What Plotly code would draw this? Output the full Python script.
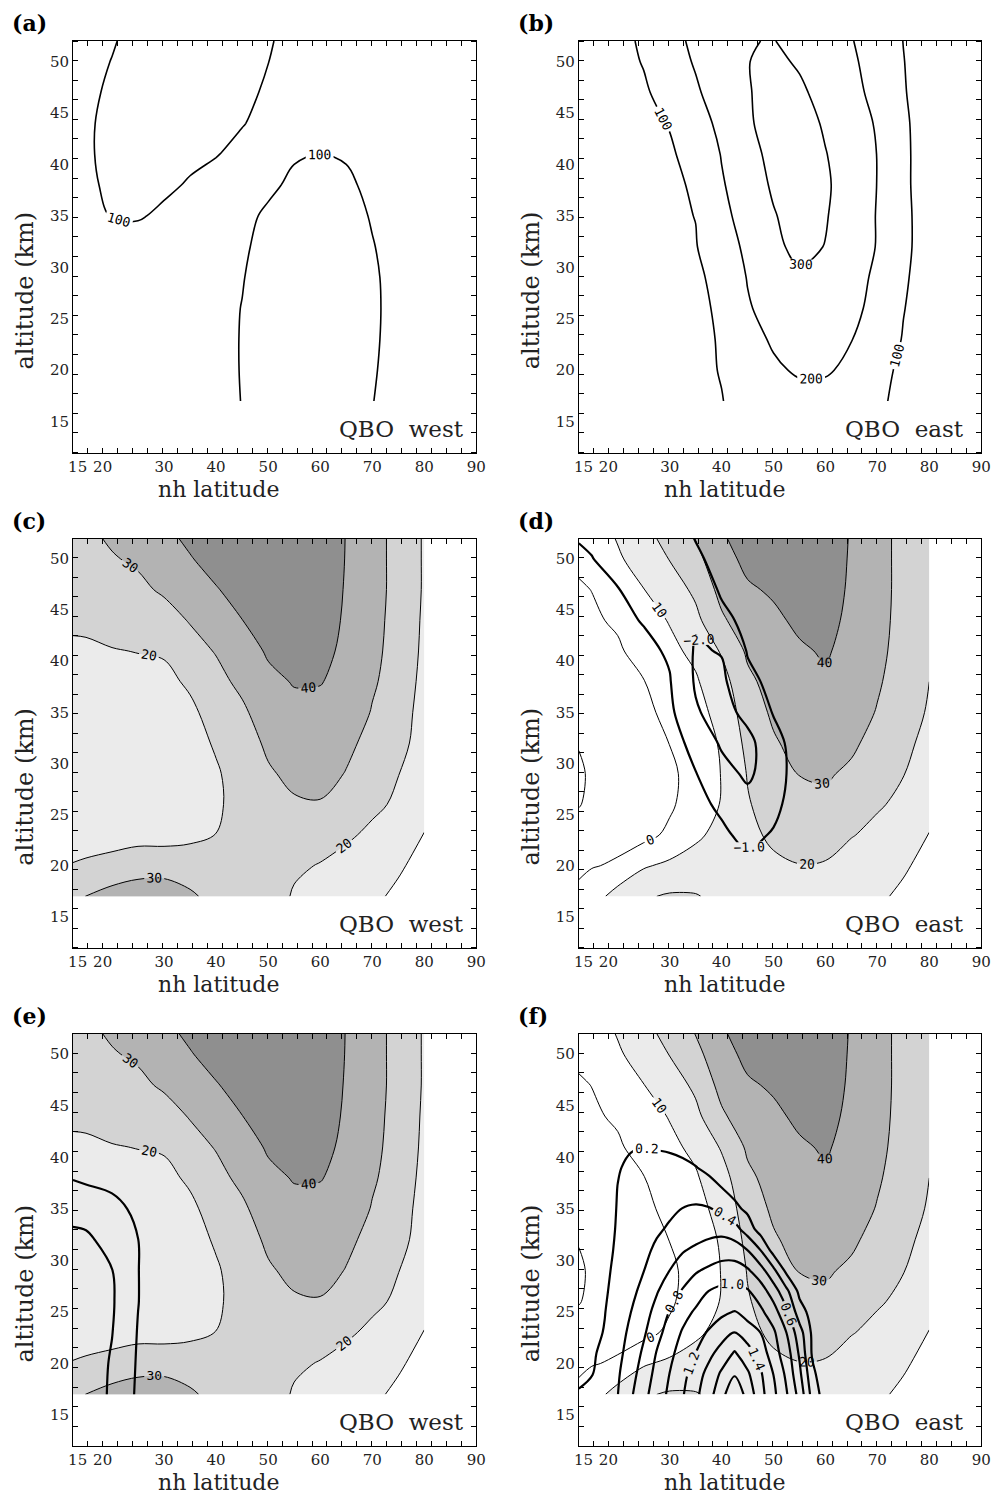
import plotly.graph_objects as go

# ------------------------------------------------------------------ data
LAT = [12.5, 15, 20, 25, 30, 35, 40, 45, 50, 55, 60, 65, 70, 75, 80]
ALT = [17, 20, 23, 26, 29, 32, 35, 38, 41, 44, 47, 50, 52]

# (a) QBO west amplitude (contour 100)
AMP_WEST = [
    [70, 70, 72, 75, 78, 82, 85, 101, 112, 118, 120, 115, 101, 85, 75],
    [70, 70, 72, 75, 78, 82, 85, 102, 115, 122, 124, 118, 103, 88, 78],
    [70, 70, 72, 75, 78, 82, 86, 102, 118, 126, 128, 121, 105, 88, 78],
    [72, 72, 74, 77, 80, 84, 87, 101, 120, 130, 132, 124, 106, 88, 78],
    [74, 74, 76, 79, 82, 85, 88, 98, 118, 130, 133, 125, 105, 88, 78],
    [76, 76, 80, 84, 86, 88, 90, 95, 111, 126, 130, 122, 102, 85, 76],
    [78, 85, 102, 103, 94, 90, 89, 92, 105, 118, 122, 115, 97, 82, 74],
    [82, 92, 108, 110, 106, 97, 92, 90, 94, 106, 111, 106, 92, 80, 72],
    [84, 95, 110, 113, 112, 107, 101, 94, 92, 97, 100.3, 97, 88, 78, 70],
    [85, 94, 111, 116, 116, 113, 108, 101, 94, 90, 88, 84, 80, 74, 68],
    [84, 92, 106, 116, 118, 117, 113, 107, 96, 90, 85, 80, 76, 72, 68],
    [82, 88, 101, 114, 118, 118, 115, 110, 100.3, 92, 86, 80, 76, 72, 68],
    [80, 86, 97, 112, 118, 119, 116, 112, 102, 93, 86, 80, 76, 72, 68],
]

# (b) QBO east amplitude (contours 100, 200, 300)
AMP_EAST = [
    [40, 45, 55, 65, 75, 85, 98, 125, 150, 165, 165, 150, 120, 70, 50],
    [40, 45, 55, 65, 75, 85, 103, 145, 185, 212, 210, 180, 135, 78, 50],
    [40, 45, 55, 66, 77, 88, 104, 165, 212, 240, 240, 202, 155, 95, 55],
    [42, 47, 57, 68, 79, 90, 107, 190, 240, 265, 265, 225, 170, 103, 60],
    [44, 49, 60, 71, 82, 93, 112, 205, 260, 290, 290, 240, 180, 110, 65],
    [46, 52, 63, 75, 87, 97, 140, 225, 285, 318, 298, 255, 195, 115, 70],
    [48, 54, 66, 78, 90, 101, 170, 245, 295, 330, 305, 260, 195, 115, 70],
    [50, 56, 70, 82, 92, 105, 190, 260, 310, 340, 310, 265, 198, 112, 70],
    [52, 58, 72, 85, 95, 115, 205, 275, 320, 345, 303, 260, 198, 112, 70],
    [55, 62, 76, 90, 102, 150, 228, 290, 330, 335, 290, 250, 190, 110, 70],
    [60, 68, 82, 95, 115, 185, 255, 295, 325, 315, 270, 230, 170, 105, 65],
    [65, 74, 88, 102, 150, 210, 270, 298, 318, 290, 255, 215, 160, 102, 62],
    [68, 78, 92, 104, 160, 225, 280, 298, 302, 280, 245, 205, 150, 99, 60],
]

# zonal wind, QBO west (shaded, panels c and e)
U_WEST = [
    [27, 30.2, 34, 35, 35.5, 31.5, 27, 26, 25, 19, 15, 12, 11.5, 8.5, 5],
    [20.4, 21, 22.5, 26, 26, 25, 23, 24, 24.5, 21.5, 19.5, 16.5, 14, 11, 7.5],
    [16.5, 17, 17, 16.5, 16.5, 18, 20.1, 23, 25, 25, 24, 21.5, 18, 15, 9.8],
    [16, 15.5, 15, 14.5, 14.5, 16, 18.8, 23, 26.5, 29, 29.5, 25.5, 22, 18.5, 12],
    [16, 15.5, 15, 14.5, 14.5, 16, 19, 24, 29, 32, 32.5, 29.7, 25, 20.2, 14],
    [16, 15.5, 15, 14.5, 14.8, 16.5, 21, 26, 31.5, 35, 35, 31.5, 28, 23, 16],
    [16.5, 16, 15.5, 15, 15.5, 18, 24, 28.5, 34.5, 37.8, 38, 35, 29.5, 25, 16],
    [17.5, 17, 16.5, 16.5, 17.5, 21.5, 27.5, 32, 38, 40.5, 40.3, 38, 31, 26.5, 17],
    [19, 18.8, 19.5, 20.3, 21, 27, 30.5, 36, 41, 43, 42, 38.5, 32, 27, 18],
    [21, 21.5, 24, 25, 27, 30.5, 36, 39.9, 44, 45.5, 43.5, 39, 32.5, 27.3, 18.5],
    [24, 25, 27.5, 28.5, 31, 35, 39.5, 43, 46, 47, 45, 39.3, 33, 27.5, 19],
    [28, 28.5, 29.5, 31, 36, 39.5, 43, 45.5, 47.5, 48, 46, 39.6, 33, 27.5, 19],
    [29, 28.6, 30.8, 33.5, 38, 41.5, 44.5, 46.5, 48, 48.5, 46.5, 39.7, 33, 27.5, 19],
]

# zonal wind, QBO east (shaded, panels d and f)
U_EAST = [
    [3, 5, 14.5, 19, 21, 20.5, 18, 17, 16, 15, 12.5, 10.5, 11.3, 8.5, 5],
    [-2.5, -0.5, 1, 9, 12, 15, 16, 17.5, 18.5, 19.8, 19.5, 15.5, 14, 11, 7.5],
    [-6, -4.5, -2.5, -3, 2, 8, 13.5, 18, 21.5, 23, 22.5, 20.5, 17.5, 15, 9.8],
    [-10.5, -8, -4.5, -5, -1.5, 5, 10.5, 19.3, 24, 27, 28, 25, 21, 18, 12],
    [-11.5, -8.5, -5.5, -6, -2, 4, 10.3, 20.5, 26.5, 30.3, 31, 28.5, 24, 20.3, 14],
    [-9.5, -8, -5, -5.5, 0.2, 5, 11, 22.5, 29, 33, 34, 31.5, 27, 22.5, 17],
    [-7, -6, -4, -3.5, 4, 7, 13, 25, 31.5, 35.5, 36.5, 34, 29.5, 24.5, 19],
    [-5, -4, -2.5, -0.3, 6, 9, 16, 28, 33.5, 37, 39, 36, 31, 26, 20],
    [-3.5, -2.5, -1, 3, 8, 12, 21, 31.5, 36, 39, 40.8, 37.5, 32, 27, 20.3],
    [-2, -1, 1, 6.5, 10.5, 17.5, 28.5, 35.5, 38.5, 41.5, 42, 38.5, 32.5, 27.5, 20.5],
    [-0.7, 0.1, 4.5, 9.8, 15, 22, 33, 39, 41, 43.5, 43, 39, 33, 27.5, 20.5],
    [1.2, 2.5, 8.5, 15, 20.3, 27, 37, 42, 43.5, 45, 43.5, 39.3, 33, 27.5, 20.5],
    [2.5, 4, 10.7, 17.5, 22.5, 30.3, 39, 43.5, 44.5, 45.5, 43.5, 39.5, 33, 27.5, 20.5],
]

# (d) overlay, QBO east (contours -1.0, -2.0)
D_EAST = [
    [-0.2, -0.2, -0.3, -0.3, -0.4, -0.5, -0.6, -0.7, -0.7, -0.6, -0.4, -0.3, -0.2, -0.1, -0.1],
    [-0.2, -0.3, -0.3, -0.4, -0.5, -0.6, -0.75, -0.85, -0.85, -0.7, -0.5, -0.3, -0.2, -0.1, -0.1],
    [-0.2, -0.3, -0.4, -0.5, -0.6, -0.7, -0.9, -1.15, -0.95, -0.7, -0.5, -0.3, -0.2, -0.1, -0.1],
    [-0.2, -0.3, -0.4, -0.5, -0.65, -0.85, -1.1, -1.6, -1.15, -0.7, -0.5, -0.3, -0.2, -0.1, -0.1],
    [-0.25, -0.3, -0.4, -0.55, -0.7, -0.98, -1.6, -2.2, -1.4, -0.6, -0.45, -0.3, -0.2, -0.1, -0.1],
    [-0.25, -0.35, -0.45, -0.6, -0.8, -1.15, -2.15, -2.3, -1.3, -0.6, -0.4, -0.3, -0.2, -0.1, -0.1],
    [-0.3, -0.35, -0.5, -0.65, -0.8, -1.9, -2.4, -1.7, -0.95, -0.6, -0.4, -0.3, -0.2, -0.1, -0.1],
    [-0.35, -0.4, -0.55, -0.7, -0.95, -2.1, -2.2, -1.2, -0.8, -0.55, -0.4, -0.3, -0.2, -0.1, -0.1],
    [-0.4, -0.45, -0.6, -0.8, -1.1, -2.1, -1.95, -0.95, -0.7, -0.5, -0.4, -0.3, -0.2, -0.1, -0.1],
    [-0.5, -0.55, -0.8, -1.05, -1.6, -1.9, -1.2, -0.8, -0.6, -0.5, -0.4, -0.3, -0.2, -0.1, -0.1],
    [-0.7, -0.8, -0.97, -1.4, -1.6, -1.5, -0.9, -0.7, -0.55, -0.45, -0.35, -0.25, -0.15, -0.1, -0.1],
    [-0.9, -0.98, -1.25, -1.4, -1.4, -1.1, -0.8, -0.6, -0.5, -0.4, -0.3, -0.2, -0.15, -0.1, -0.1],
    [-1.03, -1.1, -1.25, -1.35, -1.3, -0.98, -0.7, -0.55, -0.45, -0.4, -0.3, -0.2, -0.15, -0.1, -0.1],
]

# (e) overlay, QBO west (contours 0.2, 0.4)
E_WEST = [
    [0.55, 0.52, 0.37, 0.17, 0.05, 0.02, 0, 0, 0, 0, 0, 0, 0, 0, 0],
    [0.55, 0.52, 0.38, 0.18, 0.05, 0.02, 0, 0, 0, 0, 0, 0, 0, 0, 0],
    [0.55, 0.52, 0.405, 0.19, 0.05, 0.02, 0, 0, 0, 0, 0, 0, 0, 0, 0],
    [0.56, 0.53, 0.42, 0.205, 0.05, 0.02, 0, 0, 0, 0, 0, 0, 0, 0, 0],
    [0.56, 0.53, 0.405, 0.205, 0.05, 0.02, 0, 0, 0, 0, 0, 0, 0, 0, 0],
    [0.45, 0.44, 0.32, 0.202, 0.05, 0.02, 0, 0, 0, 0, 0, 0, 0, 0, 0],
    [0.33, 0.31, 0.27, 0.15, 0.04, 0.01, 0, 0, 0, 0, 0, 0, 0, 0, 0],
    [0.19, 0.17, 0.13, 0.08, 0.03, 0.01, 0, 0, 0, 0, 0, 0, 0, 0, 0],
    [0.1, 0.08, 0.06, 0.04, 0.02, 0.01, 0, 0, 0, 0, 0, 0, 0, 0, 0],
    [0.06, 0.05, 0.04, 0.03, 0.01, 0, 0, 0, 0, 0, 0, 0, 0, 0, 0],
    [0.04, 0.03, 0.02, 0.01, 0, 0, 0, 0, 0, 0, 0, 0, 0, 0, 0],
    [0.04, 0.03, 0.02, 0.01, 0, 0, 0, 0, 0, 0, 0, 0, 0, 0, 0],
    [0.04, 0.03, 0.02, 0.01, 0, 0, 0, 0, 0, 0, 0, 0, 0, 0, 0],
]

# (f) overlay, QBO east (contours 0.2 ... 1.8), finer grid
F_LAT = [12.5, 15, 17.5, 20, 22.5, 25, 27.5, 30, 32.5, 35, 37.5, 40, 42.5,
         45, 47.5, 50, 52.5, 55, 57.5, 60, 65, 80]
F_ALT = [17, 19, 21, 23, 25, 27, 29, 31, 33, 35, 37, 39, 41, 43, 46, 52]
F_EAST = [
    [0.22, 0.28, 0.34, 0.397, 0.571, 0.745, 0.897, 1.04, 1.183, 1.357, 1.519, 1.741, 1.95, 1.733, 1.47, 1.245, 1.018, 0.733, 0.323, 0.1, 0, 0],
    [0.15, 0.19, 0.281, 0.377, 0.523, 0.693, 0.857, 1.003, 1.139, 1.297, 1.467, 1.63, 1.78, 1.63, 1.426, 1.195, 0.958, 0.646, 0.25, 0.05, 0, 0],
    [0.12, 0.17, 0.254, 0.35, 0.475, 0.636, 0.811, 0.954, 1.081, 1.201, 1.343, 1.48, 1.62, 1.48, 1.32, 1.08, 0.9, 0.571, 0.17, 0.03, 0, 0],
    [0.1, 0.15, 0.21, 0.325, 0.438, 0.573, 0.733, 0.886, 1.02, 1.12, 1.22, 1.315, 1.41, 1.305, 1.198, 1.033, 0.798, 0.486, 0.16, 0.02, 0, 0],
    [0.09, 0.14, 0.195, 0.294, 0.398, 0.523, 0.661, 0.81, 0.929, 1.026, 1.09, 1.16, 1.21, 1.117, 1.04, 0.89, 0.633, 0.289, 0.12, 0.01, 0, 0],
    [0.08, 0.13, 0.18, 0.261, 0.35, 0.456, 0.585, 0.705, 0.818, 0.909, 1.002, 1.05, 1.07, 1.02, 0.9, 0.7, 0.45, 0.15, 0.07, 0.01, 0, 0],
    [0.07, 0.12, 0.17, 0.238, 0.317, 0.397, 0.498, 0.602, 0.691, 0.782, 0.836, 0.88, 0.89, 0.83, 0.68, 0.45, 0.15, 0.05, 0.02, 0, 0, 0],
    [0.06, 0.11, 0.16, 0.222, 0.29, 0.359, 0.431, 0.508, 0.585, 0.634, 0.67, 0.71, 0.7, 0.598, 0.398, 0.12, 0.05, 0.02, 0, 0, 0, 0],
    [0.05, 0.1, 0.15, 0.213, 0.268, 0.322, 0.376, 0.422, 0.462, 0.502, 0.54, 0.54, 0.48, 0.305, 0.12, 0.05, 0.02, 0, 0, 0, 0, 0],
    [0.04, 0.09, 0.14, 0.208, 0.248, 0.288, 0.328, 0.368, 0.404, 0.43, 0.415, 0.356, 0.244, 0.16, 0.1, 0.05, 0.02, 0, 0, 0, 0, 0],
    [0.03, 0.08, 0.13, 0.203, 0.24, 0.28, 0.31, 0.32, 0.31, 0.29, 0.25, 0.203, 0.14, 0.1, 0.06, 0.04, 0.02, 0, 0, 0, 0, 0],
    [0.02, 0.06, 0.11, 0.19, 0.225, 0.245, 0.255, 0.25, 0.235, 0.205, 0.17, 0.13, 0.1, 0.07, 0.05, 0.03, 0.01, 0, 0, 0, 0, 0],
    [0.01, 0.04, 0.08, 0.14, 0.19, 0.198, 0.19, 0.18, 0.16, 0.14, 0.11, 0.08, 0.06, 0.04, 0.03, 0.02, 0.01, 0, 0, 0, 0, 0],
    [0, 0.02, 0.05, 0.09, 0.12, 0.13, 0.13, 0.12, 0.11, 0.1, 0.08, 0.06, 0.04, 0.03, 0.02, 0.01, 0, 0, 0, 0, 0, 0],
    [0, 0.01, 0.03, 0.05, 0.07, 0.08, 0.08, 0.08, 0.07, 0.06, 0.05, 0.04, 0.03, 0.02, 0.01, 0, 0, 0, 0, 0, 0, 0],
    [0, 0, 0, 0, 0, 0, 0, 0, 0, 0, 0, 0, 0, 0, 0, 0, 0, 0, 0, 0, 0, 0],
]

PANEL_TAGS = ["(a)", "(b)", "(c)", "(d)", "(e)", "(f)"]
QBO_PHASE = ["QBO west", "QBO east", "QBO west", "QBO east", "QBO west", "QBO east"]
X_TICKS = [13.4, 18.2, 30, 40, 50, 60, 70, 80, 90]
X_TICK_TEXT = ["15", "20", "30", "40", "50", "60", "70", "80", "90"]
Y_TICKS = [15, 20, 25, 30, 35, 40, 45, 50]
X_TITLE = "nh latitude"
Y_TITLE = "altitude (km)"

# ------------------------------------------------------------------ layout
W, H = 1006, 1494
COLS = [(69.0, 478.5), (582.5, 991.0)]
ROWS = [(41.0, 452.5), (538.5, 947.5), (1033.5, 1446.0)]
XR = [12.5, 90]
YR = [12, 52]

SERIF = "DejaVu Serif"
MONO = "DejaVu Sans Mono"
SHADE = [[0.0, "#ffffff"], [0.25, "#ebebeb"], [0.5, "#d3d3d3"],
         [0.75, "#b3b3b3"], [1.0, "#8f8f8f"]]

fig = go.Figure()
layout = dict(width=W, height=H, margin=dict(l=0, r=0, t=0, b=0),
              paper_bgcolor="white", plot_bgcolor="white", showlegend=False)
annotations = []


def px(x):
    return x / W


def py(y):
    return 1 - y / H


for k in range(6):
    r, c = divmod(k, 2)
    x0, x1 = COLS[c]
    y0, y1 = ROWS[r]
    s = "" if k == 0 else str(k + 1)
    common = dict(showgrid=False, zeroline=False, showline=True, linecolor="black",
                  linewidth=1, mirror="ticks", ticks="", fixedrange=True, tickangle=0,
                  tickfont=dict(family=SERIF, size=15, color="#222"))
    layout["xaxis" + s] = dict(
        domain=[px(x0), px(x1)], anchor="y" + s, range=XR,
        tickmode="array", tickvals=X_TICKS, ticktext=X_TICK_TEXT,
        minor=dict(tickmode="linear", tick0=XR[0], dtick=(XR[1] - XR[0]) / 27,
                   ticks="inside", ticklen=5, tickcolor="black", tickwidth=1,
                   showgrid=False),
        **common)
    layout["yaxis" + s] = dict(
        domain=[py(y1), py(y0)], anchor="x" + s, range=YR,
        tickmode="array", tickvals=Y_TICKS,
        minor=dict(tickmode="linear", tick0=YR[0], dtick=(YR[1] - YR[0]) / 21,
                   ticks="inside", ticklen=5, tickcolor="black", tickwidth=1,
                   showgrid=False),
        **common)
    # panel tag
    annotations.append(dict(text="<b>" + PANEL_TAGS[k] + "</b>", x=px(x0 - 64), y=py(y0 - 18),
                            xref="paper", yref="paper", xanchor="left", yanchor="middle",
                            showarrow=False, font=dict(family=SERIF, size=22, color="black")))
    # QBO phase
    annotations.append(dict(text=QBO_PHASE[k].replace(" ", "\u00a0\u00a0"),
                            x=px(x1 - (11 if c == 0 else 15)), y=py(y1 - 24),
                            xref="paper", yref="paper", xanchor="right", yanchor="middle",
                            showarrow=False, font=dict(family=SERIF, size=23, color="#222")))
    # axis titles
    annotations.append(dict(text=X_TITLE, x=px(x0 + 148), y=py(y1 + 36.5),
                            xref="paper", yref="paper", xanchor="center", yanchor="middle",
                            showarrow=False, font=dict(family=SERIF, size=22, color="#222")))
    annotations.append(dict(text=Y_TITLE, x=px(x0 - 49), y=py((y0 + y1) / 2 + 44),
                            xref="paper", yref="paper", xanchor="center", yanchor="middle",
                            textangle=-90, showarrow=False,
                            font=dict(family=SERIF, size=24, color="#222")))

layout["annotations"] = annotations


def ax(k):
    s = "" if k == 0 else str(k + 1)
    return "x" + s, "y" + s


def shade(k, z):
    xa, ya = ax(k)
    fig.add_trace(go.Contour(
        x=LAT, y=ALT, z=z, xaxis=xa, yaxis=ya, showscale=False, hoverinfo="skip",
        colorscale=SHADE,
        contours=dict(start=10, end=40, size=10, coloring="fill", showlines=False),
        line=dict(width=0, smoothing=1)))


def lines(k, x, y, z, start, end, size, width, labels=True, fmt=".0f"):
    xa, ya = ax(k)
    fig.add_trace(go.Contour(
        x=x, y=y, z=z, xaxis=xa, yaxis=ya, showscale=False, hoverinfo="skip",
        colorscale=[[0, "black"], [1, "black"]],
        contours=dict(start=start, end=end, size=size, coloring="none",
                      showlabels=labels, labelformat=fmt,
                      labelfont=dict(family=MONO, size=13, color="black")),
        line=dict(color="black", width=width, smoothing=1)))


# (a) and (b)
lines(0, LAT, ALT, AMP_WEST, 100, 100, 100, 1.6)
lines(1, LAT, ALT, AMP_EAST, 100, 300, 100, 1.6)
# (c)
shade(2, U_WEST)
lines(2, LAT, ALT, U_WEST, 10, 40, 10, 1.0)
# (d)
shade(3, U_EAST)
lines(3, LAT, ALT, U_EAST, -10, 40, 10, 1.0)
lines(3, LAT, ALT, D_EAST, -2, -1, 1, 2.2, True, ".1f")
# (e)
shade(4, U_WEST)
lines(4, LAT, ALT, U_WEST, 10, 40, 10, 1.0)
lines(4, LAT, ALT, E_WEST, 0.2, 0.4, 0.2, 2.2, False)
# (f)
shade(5, U_EAST)
lines(5, LAT, ALT, U_EAST, -10, 40, 10, 1.0)
lines(5, F_LAT, F_ALT, F_EAST, 0.2, 1.8, 0.2, 2.2, True, ".1f")

fig.update_layout(**layout)
fig.write_html("out.html")
